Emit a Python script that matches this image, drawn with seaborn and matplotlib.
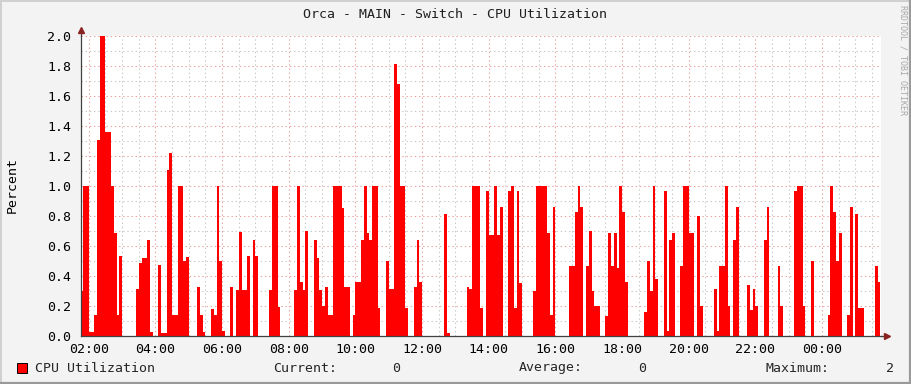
import numpy as np
import pandas as pd
import matplotlib
matplotlib.use("Agg")
import matplotlib.pyplot as plt
import matplotlib.patches as mpatches
import matplotlib.lines as mlines
import seaborn as sns

# ---- data: CPU utilization (%), step segments (start minute since 00:00 of day 1) ----
seg_start_min = [
    105, 110, 120, 130, 135, 140, 150, 160, 165, 170, 175, 180,
    205, 210, 215, 225, 230, 235,
    245, 250, 260, 265, 270, 280, 290, 295, 300,
    315, 320, 325, 330,
    340, 345, 350, 355, 360, 365,
    375, 380,
    385, 390, 395, 405, 410,
    415, 420, 425,
    445, 450, 460, 465,
    490, 495, 500, 505, 510, 515,
    525, 530, 535, 540, 545, 550, 560, 575, 580, 590,
    595, 600, 610, 615, 620, 625, 630, 640, 645,
    655, 660, 670, 675, 680, 690, 695,
    705, 710, 715, 720,
    760, 765, 770,
    800, 805, 810, 825, 830,
    835, 840, 850, 855, 860, 865,
    875, 880, 885, 890, 895, 900,
    920, 925, 945, 950, 955, 960,
    985, 995, 1000, 1005, 1010,
    1015, 1020, 1025, 1030, 1040,
    1050, 1055, 1060, 1065, 1070, 1075, 1080, 1085, 1090,
    1120, 1125, 1130, 1135, 1140, 1145,
    1155, 1160, 1165, 1170, 1175,
    1185, 1190, 1200, 1210,
    1215, 1220, 1225,
    1245, 1250, 1255, 1265, 1270, 1275,
    1280, 1285, 1290,
    1305, 1310, 1315, 1320, 1325,
    1335, 1340, 1345,
    1360, 1365, 1370,
    1390, 1395, 1405, 1410,
    1420, 1425,
    1450, 1455, 1460, 1465, 1470, 1475,
    1485, 1490, 1495,
    1500, 1505, 1515,
    1535, 1540, 1545,
]
seg_value = [
    0.30, 1.00, 0.03, 0.14, 1.31, 2.00, 1.36, 1.00, 0.69, 0.14, 0.53, 0,
    0.31, 0.49, 0.52, 0.64, 0.03, 0,
    0.47, 0.02, 1.11, 1.22, 0.14, 1.00, 0.50, 0.53, 0,
    0.33, 0.14, 0.03, 0,
    0.18, 0.14, 1.00, 0.50, 0.03, 0,
    0.33, 0,
    0.31, 0.69, 0.31, 0.53, 0,
    0.64, 0.53, 0,
    0.31, 1.00, 0.19, 0,
    0.31, 1.00, 0.36, 0.31, 0.70, 0,
    0.64, 0.52, 0.31, 0.20, 0.33, 0.14, 1.00, 0.85, 0.33, 0,
    0.14, 0.36, 0.64, 1.00, 0.69, 0.64, 1.00, 0.19, 0,
    0.50, 0.31, 1.81, 1.68, 1.00, 0.19, 0,
    0.33, 0.64, 0.36, 0,
    0.81, 0.02, 0,
    0.33, 0.31, 1.00, 0.19, 0,
    0.97, 0.67, 1.00, 0.67, 0.86, 0,
    0.97, 1.00, 0.19, 0.97, 0.35, 0,
    0.30, 1.00, 0.69, 0.14, 0.86, 0,
    0.47, 0.83, 1.00, 0.86, 0,
    0.47, 0.70, 0.30, 0.20, 0,
    0.13, 0.69, 0.47, 0.69, 0.45, 1.00, 0.83, 0.36, 0,
    0.16, 0.50, 0.30, 1.00, 0.38, 0,
    0.97, 0.03, 0.64, 0.69, 0,
    0.47, 1.00, 0.69, 0,
    0.80, 0.20, 0,
    0.31, 0.03, 0.47, 1.00, 0.20, 0,
    0.64, 0.86, 0,
    0.34, 0.17, 0.31, 0.20, 0,
    0.64, 0.86, 0,
    0.47, 0.20, 0,
    0.97, 1.00, 0.20, 0,
    0.50, 0,
    0.14, 1.00, 0.83, 0.50, 0.69, 0,
    0.14, 0.86, 0,
    0.81, 0.19, 0,
    0.47, 0.36, 0,
]
data_end_min = 1550

x_tick_min = [120, 240, 360, 480, 600, 720, 840, 960, 1080, 1200, 1320, 1440]
x_tick_labels = ["02:00", "04:00", "06:00", "08:00", "10:00", "12:00",
                 "14:00", "16:00", "18:00", "20:00", "22:00", "00:00"]
y_ticks = [0.0, 0.2, 0.4, 0.6, 0.8, 1.0, 1.2, 1.4, 1.6, 1.8, 2.0]

title = "Orca - MAIN - Switch - CPU Utilization"
series_name = "CPU Utilization"
legend_current = "0"
legend_average = "0"
legend_maximum = "2"

# ---- style ----
sns.set_style("white")
plt.rcParams["font.family"] = ["DejaVu Sans Mono", "DejaVu Sans"]
plt.rcParams["lines.scale_dashes"] = False

W, H = 911, 384
fig = plt.figure(figsize=(W / 100, H / 100), dpi=100)
fig.patch.set_facecolor("#F3F3F3")
ax = fig.add_axes([81 / W, 48 / H, 800 / W, 300 / H])
ax.set_facecolor("white")

edges = [float(e) for e in seg_start_min + [data_end_min]]
mids = [(a + b) / 2 for a, b in zip(edges[:-1], edges[1:])]
df = pd.DataFrame({"minute": mids, "value": seg_value})
sns.histplot(data=df, x="minute", weights="value", bins=edges, element="step",
             fill=True, color="#FF0000", alpha=1.0, linewidth=0, edgecolor="none",
             ax=ax, zorder=2)

ax.set_xlim(106, 1546)
ax.set_ylim(0, 2.0)
ax.set_xlabel("")
ax.set_ylabel("")
ax.set_xticks(x_tick_min)
ax.set_xticklabels(x_tick_labels)
ax.set_xticks(np.arange(120, 1546, 30), minor=True)
ax.set_yticks(y_ticks)
ax.set_yticklabels([f"{v:.1f}" for v in y_ticks])
ax.set_yticks(np.arange(0.1, 2.0, 0.2), minor=True)

ax.set_axisbelow(True)
ax.grid(which="minor", color="#C8C8C8", linestyle=(0, (1.0, 2.0)), linewidth=0.75)
ax.grid(which="major", color="#EFA0A0", linestyle=(0, (1.0, 2.0)), linewidth=0.75)

for s in ["top", "right"]:
    ax.spines[s].set_visible(False)
for s in ["left", "bottom"]:
    ax.spines[s].set_color("#404040")
    ax.spines[s].set_linewidth(0.9)
    ax.spines[s].set_zorder(5)

ax.tick_params(axis="both", which="both", labelsize=9.5, labelcolor="black",
               color="#909090", width=0.7)
ax.tick_params(axis="y", which="major", length=2, pad=5)
ax.tick_params(axis="y", which="minor", length=2)
ax.tick_params(axis="x", which="major", length=2, pad=3)
ax.tick_params(axis="x", which="minor", length=0)

# axis extensions and arrows
ax.plot([0, 0], [1.0, 1.02], transform=ax.transAxes, color="#404040",
        linewidth=0.9, clip_on=False, zorder=5)
ax.plot([0], [1.02], transform=ax.transAxes, marker="^", markersize=4.5,
        color="#8B2222", clip_on=False, zorder=6, linestyle="none")
ax.plot([1.0, 1.006], [0, 0], transform=ax.transAxes, color="#404040",
        linewidth=0.9, clip_on=False, zorder=5)
ax.plot([1.007], [0], transform=ax.transAxes, marker=">", markersize=4.5,
        color="#8B2222", clip_on=False, zorder=6, linestyle="none")

# texts
fig.text(455 / W, 1 - 14 / H, title, ha="center", va="center", fontsize=9.5,
         color="#202020")
fig.text(12 / W, 1 - 185 / H, "Percent", rotation=90, ha="center", va="center",
         fontsize=9.5, color="black")
fig.text(903 / W, 1 - 5 / H, "RRDTOOL / TOBI OETIKER", rotation=270,
         ha="center", va="top", fontsize=6, color="#A8A8A8")

ly = 1 - 368 / H
fig.patches.append(mpatches.Rectangle((17 / W, 1 - 373 / H), 10 / W, 10 / H,
                                      transform=fig.transFigure, facecolor="#FF0000",
                                      edgecolor="black", linewidth=0.7))
fig.text(35 / W, ly, series_name, ha="left", va="center", fontsize=9.5)
fig.text(273 / W, ly, "Current:", ha="left", va="center", fontsize=9.5)
fig.text(400 / W, ly, legend_current, ha="right", va="center", fontsize=9.5)
fig.text(519 / W, ly, "Average:", ha="left", va="center", fontsize=9.5)
fig.text(646 / W, ly, legend_average, ha="right", va="center", fontsize=9.5)
fig.text(765 / W, ly, "Maximum:", ha="left", va="center", fontsize=9.5)
fig.text(894 / W, ly, legend_maximum, ha="right", va="center", fontsize=9.5)

# 3D frame
fig.add_artist(mlines.Line2D([0, 1], [1 - 1 / H, 1 - 1 / H], color="#D0D0D0",
                             linewidth=1.4, transform=fig.transFigure))
fig.add_artist(mlines.Line2D([1 / W, 1 / W], [0, 1], color="#D0D0D0",
                             linewidth=1.4, transform=fig.transFigure))
fig.add_artist(mlines.Line2D([0, 1], [1 / H, 1 / H], color="#9A9A9A",
                             linewidth=1.6, transform=fig.transFigure))
fig.add_artist(mlines.Line2D([1 - 1 / W, 1 - 1 / W], [0, 1], color="#9A9A9A",
                             linewidth=1.6, transform=fig.transFigure))

fig.savefig("out.png", dpi=100, facecolor=fig.get_facecolor())
